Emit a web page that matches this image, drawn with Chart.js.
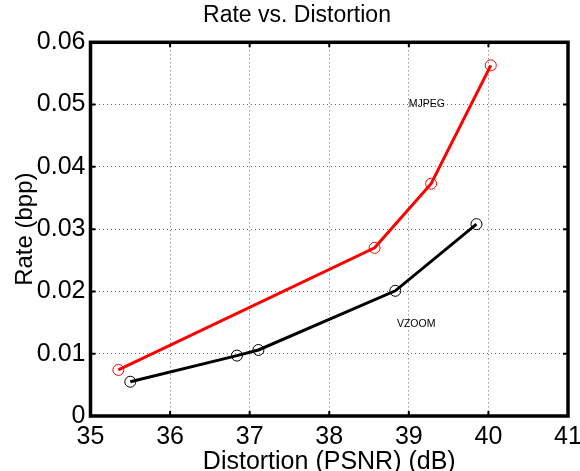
<!DOCTYPE html>
<html>
<head>
<meta charset="utf-8">
<title>Rate vs. Distortion</title>
<script src="https://cdn.jsdelivr.net/npm/chart.js@4/dist/chart.umd.min.js"></script>
<style>
  html, body { margin: 0; padding: 0; background: #fff; }
  #rdChart { display: block; }
</style>
</head>
<body>
<canvas id="rdChart" width="580" height="471"></canvas>
<script>
// values
const mjpegPsnr = [35.35, 38.57, 39.28, 40.03];
const mjpegRate = [0.0074, 0.0270, 0.0373, 0.0563];
const vzoomPsnr = [35.50, 36.84, 37.11, 38.83, 39.85];
const vzoomRate = [0.0055, 0.0097, 0.0106, 0.0201, 0.0308];

const xTickLabels = ["35", "36", "37", "38", "39", "40", "41"];
const yTickLabels = ["0", "0.01", "0.02", "0.03", "0.04", "0.05", "0.06"];

// text labels placed inside the axes (data coords)
const seriesLabels = [
  { text: "MJPEG", x: 39.0, y: 0.0500 },
  { text: "VZOOM", x: 38.85, y: 0.0147 },
];

const FONT = "'Liberation Sans', Arial, Helvetica, sans-serif";

const toPoints = (xs, ys) => xs.map((x, i) => ({ x: x, y: ys[i] }));

// MATLAB style box, inward ticks, titles and text labels
const matlabAxes = {
  id: "matlabAxes",
  afterDraw(chart) {
    const { ctx, chartArea: a, scales } = chart;
    const xs = scales.x, ys = scales.y;
    ctx.save();

    // inward tick marks on all four sides
    ctx.strokeStyle = "#000";
    ctx.lineWidth = 2;
    const tl = 5;
    ctx.beginPath();
    xs.ticks.forEach((t) => {
      const px = xs.getPixelForValue(t.value);
      ctx.moveTo(px, a.bottom); ctx.lineTo(px, a.bottom - tl);
      ctx.moveTo(px, a.top); ctx.lineTo(px, a.top + tl);
    });
    ys.ticks.forEach((t) => {
      const py = ys.getPixelForValue(t.value);
      ctx.moveTo(a.left, py); ctx.lineTo(a.left + tl, py);
      ctx.moveTo(a.right, py); ctx.lineTo(a.right - tl, py);
    });
    ctx.stroke();

    // thick box
    ctx.lineWidth = 3.5;
    ctx.strokeRect(a.left, a.top, a.right - a.left, a.bottom - a.top);

    ctx.fillStyle = "#000";
    // title
    ctx.font = "23px " + FONT;
    ctx.textAlign = "center";
    ctx.textBaseline = "alphabetic";
    ctx.fillText("Rate vs. Distortion", 297, 21.5);

    // x axis label
    ctx.font = "25px " + FONT;
    ctx.fillText("Distortion (PSNR) (dB)", (a.left + a.right) / 2, 468.6);

    // y axis label
    ctx.save();
    ctx.translate(32.3, (a.top + a.bottom) / 2);
    ctx.rotate(-Math.PI / 2);
    ctx.font = "24px " + FONT;
    ctx.fillText("Rate (bpp)", 0, 0);
    ctx.restore();

    // series text labels
    ctx.font = "10.5px " + FONT;
    ctx.textAlign = "left";
    ctx.textBaseline = "middle";
    seriesLabels.forEach((l) => {
      ctx.fillText(l.text, xs.getPixelForValue(l.x), ys.getPixelForValue(l.y));
    });

    ctx.restore();
  },
};

const gridStyle = {
  color: "rgba(0,0,0,0.6)",
  lineWidth: 1,
  drawTicks: false,
};

new Chart(document.getElementById("rdChart"), {
  type: "scatter",
  data: {
    datasets: [
      {
        label: "MJPEG",
        data: toPoints(mjpegPsnr, mjpegRate),
        showLine: true,
        borderColor: "#ff0000",
        borderWidth: 3,
        pointStyle: "circle",
        pointRadius: 5.5,
        pointBorderWidth: 1,
        pointBorderColor: "#ff0000",
        pointBackgroundColor: "rgba(0,0,0,0)",
        tension: 0,
      },
      {
        label: "VZOOM",
        data: toPoints(vzoomPsnr, vzoomRate),
        showLine: true,
        borderColor: "#000000",
        borderWidth: 3,
        pointStyle: "circle",
        pointRadius: 5.5,
        pointBorderWidth: 1,
        pointBorderColor: "#000000",
        pointBackgroundColor: "rgba(0,0,0,0)",
        tension: 0,
      },
    ],
  },
  options: {
    responsive: false,
    animation: false,
    events: [],
    layout: { padding: { top: 42.3, right: 12, left: 0, bottom: 0 } },
    plugins: {
      legend: { display: false },
      tooltip: { enabled: false },
      title: { display: false },
    },
    scales: {
      x: {
        type: "linear",
        min: 35,
        max: 41,
        ticks: {
          stepSize: 1,
          padding: 6.5,
          color: "#000",
          maxRotation: 0,
          font: { family: FONT, size: 25 },
          callback: (v, i) => xTickLabels[i],
        },
        grid: { ...gridStyle, borderDash: [1, 3] },
        border: { display: false, dash: [1, 3] },
        afterFit: (scale) => {
          scale.height = 55;
          scale.paddingLeft = 0;
          scale.paddingRight = 0;
        },
      },
      y: {
        type: "linear",
        min: 0,
        max: 0.06,
        ticks: {
          stepSize: 0.01,
          padding: 5,
          color: "#000",
          font: { family: FONT, size: 25 },
          callback: (v, i) => yTickLabels[i],
        },
        grid: { ...gridStyle },
        border: { display: false, dash: [1, 3] },
        afterFit: (scale) => {
          scale.width = 90.5;
          scale.paddingTop = 0;
          scale.paddingBottom = 0;
        },
      },
    },
  },
  plugins: [matlabAxes],
});
</script>
</body>
</html>
